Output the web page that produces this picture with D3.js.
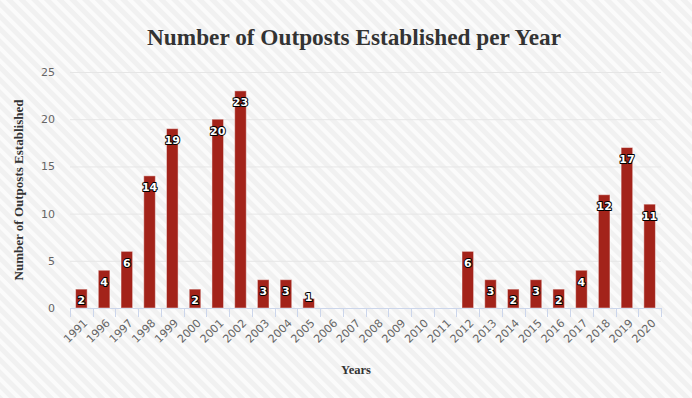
<!DOCTYPE html>
<html><head><meta charset="utf-8">
<script src="https://cdn.jsdelivr.net/npm/d3@7"></script>
<style>html,body{margin:0;padding:0;background:#fff}svg{display:block}</style>
</head><body>
<svg id="chart" width="692" height="398"></svg>
<script>
const years = ["1991","1996","1997","1998","1999","2000","2001","2002","2003","2004","2005","2006","2007","2008","2009","2010","2011","2012","2013","2014","2015","2016","2017","2018","2019","2020"];
const outposts = [2,4,6,14,19,2,20,23,3,3,1,0,0,0,0,0,0,6,3,2,3,2,4,12,17,11];
const yTicks = [0,5,10,15,20,25];
const titleText = "Number of Outposts Established per Year";
const xTitle = "Years";
const yTitle = "Number of Outposts Established";

const W = 692, H = 398;
const svg = d3.select("#chart");
const defs = svg.append("defs");
const pat = defs.append("pattern").attr("id","stripes").attr("patternUnits","userSpaceOnUse")
  .attr("width",9).attr("height",9).attr("patternTransform","rotate(-45)");
pat.append("rect").attr("width",9).attr("height",9).attr("fill","#f1f1f1");
pat.append("rect").attr("width",4).attr("height",9).attr("fill","#fbfbfb");
svg.append("rect").attr("width",W).attr("height",H).attr("fill","url(#stripes)");

const x = d3.scaleBand().domain(years).range([70,661]).paddingInner(0.49).paddingOuter(0.245);
const y = d3.scaleLinear().domain([0,25]).range([308,72]);

// grid
svg.append("g").selectAll("line").data(yTicks.filter(d=>d>0)).join("line")
  .attr("x1",70).attr("x2",661).attr("y1",d=>y(d)+0.5).attr("y2",d=>y(d)+0.5)
  .attr("stroke","#e6e6e6").attr("stroke-width",1);

// y axis labels
const yAxis = d3.axisLeft(y).tickValues(yTicks).tickSize(0).tickPadding(15);
const gy = svg.append("g").attr("transform","translate(70,0)").call(yAxis);
gy.select(".domain").remove();
gy.selectAll("text").attr("fill","#666").style("font-family","'DejaVu Sans', Verdana, sans-serif").style("font-size","11px");

// x axis
const step = x.step();
const gx = svg.append("g").attr("transform","translate(0,308)");
gx.append("line").attr("x1",70).attr("x2",661).attr("y1",0.5).attr("y2",0.5).attr("stroke","#ccd6eb");
const bounds = d3.range(years.length+1).map(i=>70+i*step);
gx.selectAll("line.tk").data(bounds).join("line").attr("class","tk")
  .attr("x1",d=>Math.round(d)+0.5).attr("x2",d=>Math.round(d)+0.5).attr("y1",0).attr("y2",9)
  .attr("stroke","#ccd6eb");
gx.selectAll("text").data(years).join("text")
  .attr("transform",d=>`translate(${x(d)+x.bandwidth()/2+4},${13}) rotate(-45)`)
  .attr("text-anchor","end").attr("dy","0.35em")
  .attr("fill","#666").style("font-family","'DejaVu Sans', Verdana, sans-serif").style("font-size","11px")
  .text(d=>d);

// bars
svg.append("g").selectAll("rect").data(years.map((d,i)=>({yr:d,v:outposts[i]})).filter(d=>d.v>0)).join("rect")
  .attr("x",d=>x(d.yr)).attr("width",x.bandwidth())
  .attr("y",d=>y(d.v)).attr("height",d=>y(0)-y(d.v))
  .attr("fill","#a3231a").attr("stroke","rgba(255,255,255,0.45)").attr("stroke-width",1);

// labels
svg.append("g").selectAll("text").data(years.map((d,i)=>({yr:d,v:outposts[i]})).filter(d=>d.v>0)).join("text")
  .attr("x",d=>x(d.yr)+x.bandwidth()/2)
  .attr("y",d=>{let c=y(d.v)+11.5; if(c>302) c=297.5; return c;})
  .attr("text-anchor","middle").attr("dy","0.35em")
  .style("font-family","'DejaVu Sans', Verdana, sans-serif").style("font-size","11px").style("font-weight","bold")
  .attr("fill","#fff").attr("stroke","#000").attr("stroke-width",2).attr("stroke-linejoin","round")
  .attr("paint-order","stroke")
  .text(d=>d.v);

// titles
const serif = "'Liberation Serif','Times New Roman',serif";
svg.append("text").attr("x",354).attr("y",45).attr("text-anchor","middle")
  .attr("textLength",414).attr("lengthAdjust","spacingAndGlyphs")
  .style("font-family",serif).style("font-weight","bold").style("font-size","24px")
  .attr("fill","#333").text(titleText);
svg.append("text").attr("x",356).attr("y",374).attr("text-anchor","middle")
  .attr("textLength",30).attr("lengthAdjust","spacingAndGlyphs")
  .style("font-family",serif).style("font-weight","bold").style("font-size","13px")
  .attr("fill","#333").text(xTitle);
svg.append("text").attr("transform","translate(23,190) rotate(-90)").attr("text-anchor","middle")
  .attr("textLength",181).attr("lengthAdjust","spacingAndGlyphs")
  .style("font-family",serif).style("font-weight","bold").style("font-size","13px")
  .attr("fill","#333").text(yTitle);
</script>
</body></html>
